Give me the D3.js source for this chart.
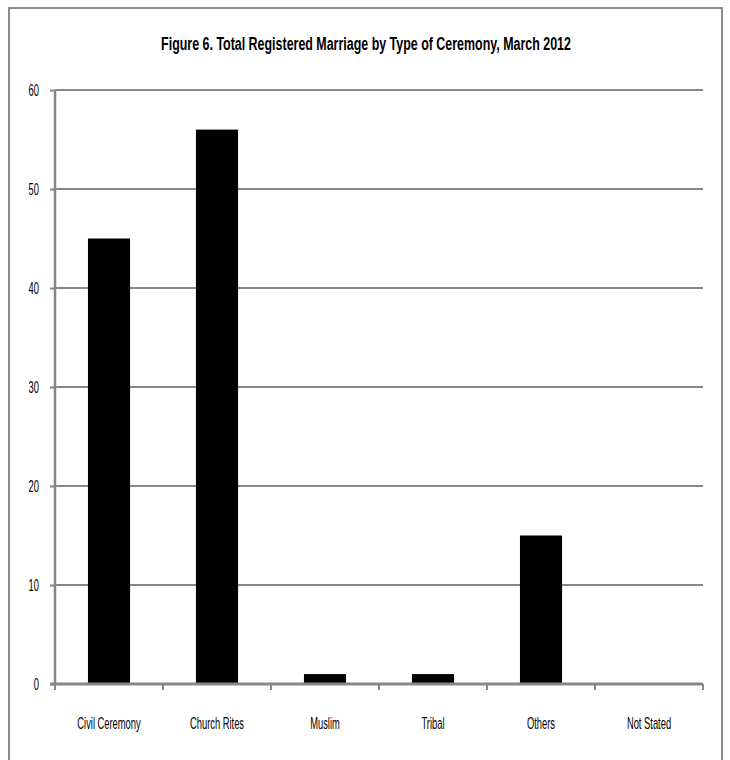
<!DOCTYPE html>
<html>
<head>
<meta charset="utf-8">
<script src="https://cdn.jsdelivr.net/npm/d3@7"></script>
<style>
  body { margin: 0; background: #fff; }
  svg text { font-family: "Liberation Sans Narrow", "Arial Narrow", "Liberation Sans", Arial, sans-serif; fill: #000; }
</style>
</head>
<body>
<svg id="chart" width="730" height="760"></svg>
<script>
// chart data
let categories = ['Civil Ceremony', 'Church Rites', 'Muslim', 'Tribal', 'Others', 'Not Stated'];
let marriages = [45, 56, 1, 1, 15, 0];
let yTicks = [0, 10, 20, 30, 40, 50, 60];
let title = 'Figure 6. Total Registered Marriage by Type of Ceremony, March 2012';

let margin = {left: 55, right: 27, top: 90, bottom: 76};
let W = 730, H = 760;
let narrow = 0.585; // squeeze text to look like a tall narrow face

let SVG = d3.select('#chart');

// put a text at (px, py) and squeeze it horizontally
function placeNarrow(selection, px, py, sx){
  selection
    .attr('x', 0)
    .attr('y', 0)
    .attr('transform', (d, i) => `translate(${typeof px === 'function' ? px(d, i) : px},${py}) scale(${sx},1)`);
}

// outer frame (bottom runs off the picture)
SVG.append('path')
  .attr('d', `M9,770 L9,8 L722,8 L722,770`)
  .attr('fill', 'none')
  .attr('stroke', '#8c8c8c')
  .attr('stroke-width', 2);

let x = d3.scaleBand()
  .domain(categories)
  .range([margin.left, W - margin.right])
  .paddingInner(0.61)
  .paddingOuter(0.305);

let y = d3.scaleLinear()
  .domain([0, 60])
  .range([H - margin.bottom, margin.top]);

// gridlines
SVG.append('g')
  .attr('class', 'grid')
  .selectAll('line')
  .data(yTicks.filter(d => d > 0))
  .enter()
  .append('line')
  .attr('x1', margin.left)
  .attr('x2', W - margin.right)
  .attr('y1', d => y(d))
  .attr('y2', d => y(d))
  .attr('stroke', '#878787')
  .attr('stroke-width', 2);

// y axis
let yAxis = d3.axisLeft(y).tickValues(yTicks).tickSize(5).tickPadding(10);
let yG = SVG.append('g')
  .attr('transform', `translate(${margin.left},0)`)
  .call(yAxis);
yG.select('.domain').attr('stroke', '#878787').attr('stroke-width', 2.5).attr('d', `M0,${y(60)}V${y(0)}`);
yG.selectAll('.tick line').attr('stroke', '#878787').attr('stroke-width', 2);
yG.selectAll('.tick text')
  .style('font-size', '16px')
  .attr('dy', '0.35em')
  .call(placeNarrow, -16, 0, narrow);

// bars
SVG.append('g')
  .attr('class', 'bars')
  .selectAll('rect')
  .data(categories)
  .enter()
  .append('rect')
  .attr('x', d => x(d))
  .attr('width', x.bandwidth())
  .attr('y', (d, i) => y(marriages[i]))
  .attr('height', (d, i) => y(0) - y(marriages[i]))
  .attr('fill', '#000');

// x axis with ticks at band edges
let edges = categories.map(d => x(d) - x.step() * x.paddingInner() / 2);
edges.push(W - margin.right);
let xG = SVG.append('g').attr('class', 'xaxis');
xG.append('line')
  .attr('x1', margin.left - 5)
  .attr('x2', W - margin.right)
  .attr('y1', y(0))
  .attr('y2', y(0))
  .attr('stroke', '#878787')
  .attr('stroke-width', 3);
xG.selectAll('line.tick')
  .data(edges)
  .enter()
  .append('line')
  .attr('class', 'tick')
  .attr('x1', d => d)
  .attr('x2', d => d)
  .attr('y1', y(0))
  .attr('y2', y(0) + 6)
  .attr('stroke', '#878787')
  .attr('stroke-width', 2);
xG.selectAll('text')
  .data(categories)
  .enter()
  .append('text')
  .attr('text-anchor', 'middle')
  .style('font-size', '16px')
  .text(d => d)
  .call(placeNarrow, d => x(d) + x.bandwidth() / 2, y(0) + 45, narrow);

// title
SVG.append('text')
  .attr('text-anchor', 'middle')
  .style('font-size', '19px')
  .style('font-weight', 'bold')
  .text(title)
  .call(placeNarrow, 366, 50, 0.655);
</script>
</body>
</html>
